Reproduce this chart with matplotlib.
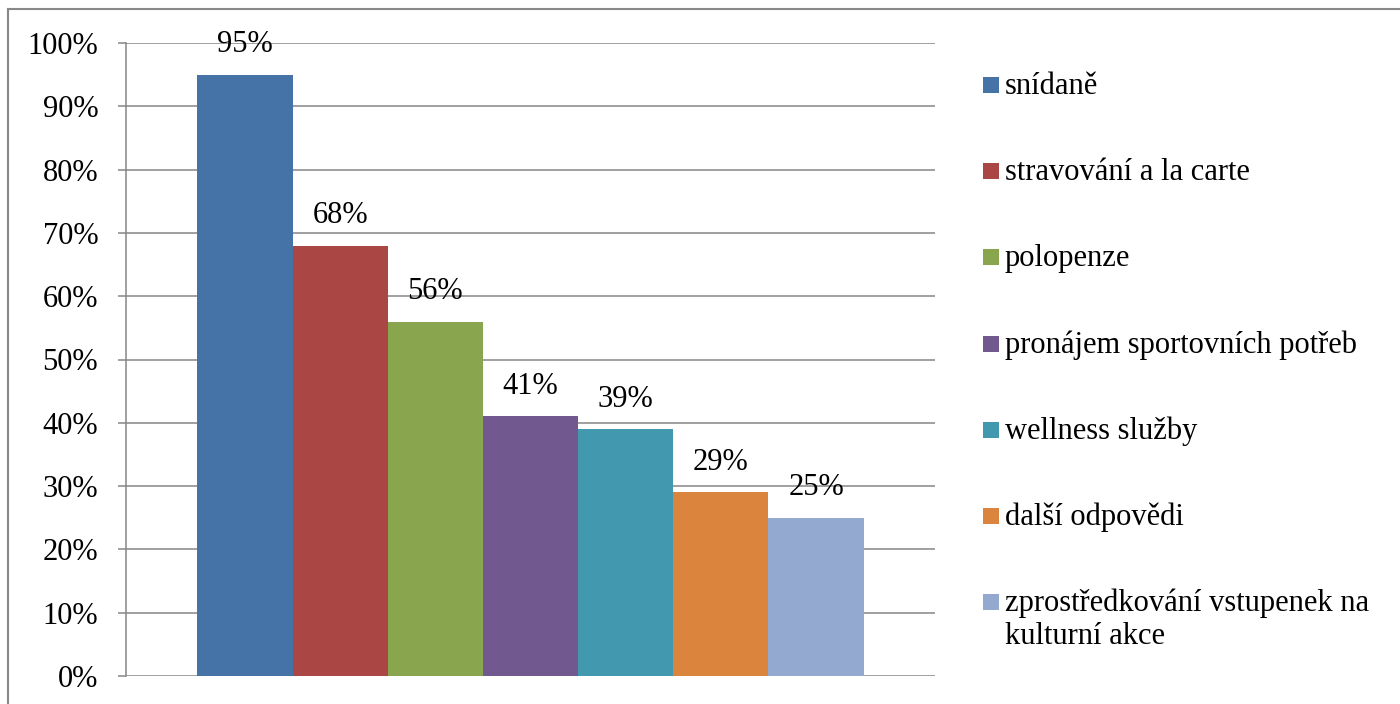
import matplotlib
matplotlib.use("Agg")
import matplotlib.pyplot as plt
from matplotlib.patches import Rectangle
from matplotlib.lines import Line2D

categories = ["snídaně", "stravování a la carte", "polopenze",
              "pronájem sportovních potřeb", "wellness služby",
              "další odpovědi", "zprostředkování vstupenek na\nkulturní akce"]
values = [95, 68, 56, 41, 39, 29, 25]
colors = ["#4572A7", "#AA4643", "#89A54E", "#71588F", "#4198AF", "#DB843D", "#93A9CF"]
yticks = [0, 10, 20, 30, 40, 50, 60, 70, 80, 90, 100]
ytick_labels = [f"{v}%" for v in yticks]

W, H = 1400, 704
FS = 22
plt.rcParams['font.family'] = ['Liberation Serif', 'DejaVu Serif']
fig = plt.figure(figsize=(W / 100, H / 100), dpi=100)
fig.patch.set_facecolor("white")

# outer frame (top and left edges visible)
fig.add_artist(Line2D([8 / W, 8 / W], [0, 1 - 9 / H], transform=fig.transFigure,
                      color="#888888", lw=1.5))
fig.add_artist(Line2D([8 / W, 1], [1 - 9 / H, 1 - 9 / H], transform=fig.transFigure,
                      color="#888888", lw=1.5))

ax = fig.add_axes([126 / W, 1 - 676 / H, (935 - 126) / W, (676 - 43) / H])
x = list(range(len(values)))
ax.bar(x, values, width=1.0, color=colors, zorder=3)
ax.set_xlim(-1.25, 7.25 - 1 + 1)
ax.set_ylim(0, 100)
ax.set_yticks(yticks)
ax.set_yticklabels(ytick_labels, fontsize=FS)
ax.set_xticks([])
ax.grid(axis='y', color="#868686", lw=1.1, zorder=0)
for s in ["top", "right", "bottom"]:
    ax.spines[s].set_visible(False)
ax.spines["left"].set_color("#868686")
ax.spines["left"].set_linewidth(1.1)
ax.tick_params(axis='y', length=6, width=1.1, color="#868686", pad=14)

for xi, v in zip(x, values):
    ax.annotate(f"{v}%", (xi, v), xytext=(0, 21.5), textcoords="offset points",
                ha="center", va="center", fontsize=FS, zorder=4)

# legend
y0 = 85
step = 86.2
line_h = 33
for i, (lab, c) in enumerate(zip(categories, colors)):
    yc = y0 + i * step
    fig.add_artist(Rectangle((983 / W, 1 - (yc + 8) / H), 16 / W, 16 / H,
                             transform=fig.transFigure, facecolor=c, edgecolor="none"))
    for j, part in enumerate(lab.split("\n")):
        fig.text(1005 / W, 1 - (yc + 9 + j * line_h) / H, part, fontsize=FS,
                 ha="left", va="baseline")

fig.savefig("out.png", dpi=100)
